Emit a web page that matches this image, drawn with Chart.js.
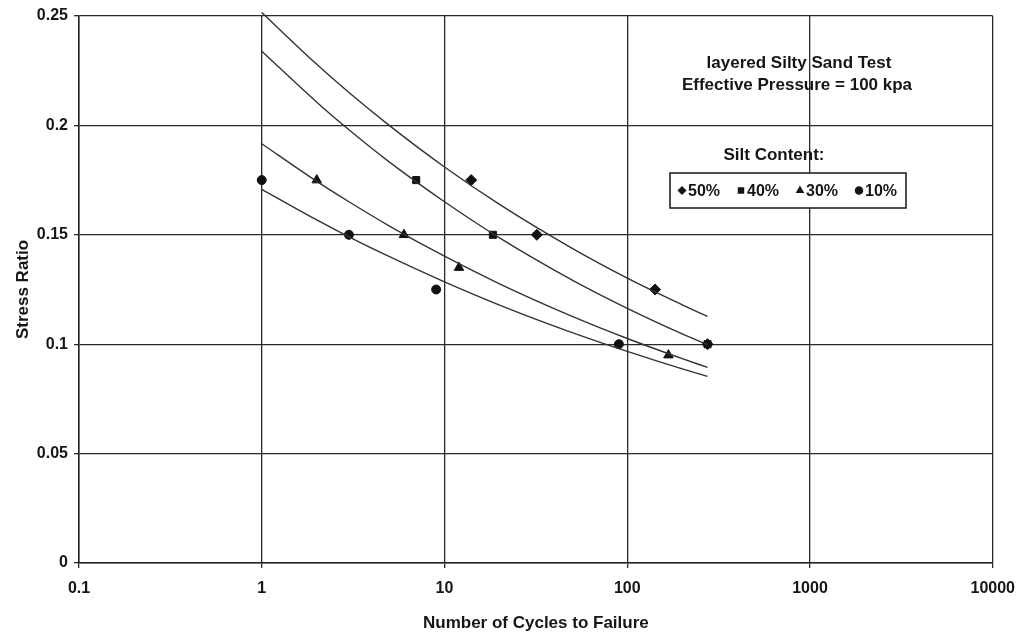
<!DOCTYPE html>
<html>
<head>
<meta charset="utf-8">
<script src="https://cdn.jsdelivr.net/npm/chart.js@4.4.1/dist/chart.umd.min.js"></script>
<style>
  html, body { margin: 0; padding: 0; background: #fff; }
  #wrap { width: 1026px; height: 634px; }
</style>
</head>
<body>
<div id="wrap"><canvas id="chart"></canvas></div>
<script>
// measured tests: cycles to failure / stress ratio, one pair of arrays per silt content
const silt50N = [14, 32, 142, 275];
const silt50R = [0.175, 0.15, 0.125, 0.1];
const silt40N = [7, 18.4, 275];
const silt40R = [0.175, 0.15, 0.1];
const silt30N = [2, 6, 12, 168];
const silt30R = [0.175, 0.15, 0.135, 0.095];
const silt10N = [1, 3, 9, 90];
const silt10R = [0.175, 0.15, 0.125, 0.1];

// fitted trend curves, read at these cycle counts
const curveN = [1, 2, 3, 5, 10, 20, 50, 100, 200, 275];
const curve50 = [0.2516, 0.2279, 0.2150, 0.1999, 0.1810, 0.1639, 0.1438, 0.1302, 0.1180, 0.1127];
const curve40 = [0.2339, 0.2106, 0.1980, 0.1832, 0.1651, 0.1486, 0.1293, 0.1164, 0.1047, 0.0998];
const curve30 = [0.1916, 0.1744, 0.1651, 0.1540, 0.1402, 0.1276, 0.1127, 0.1026, 0.0934, 0.0894];
const curve10 = [0.1708, 0.1568, 0.1491, 0.1400, 0.1285, 0.1179, 0.1053, 0.0967, 0.0887, 0.0853];

const xTicks = [0.1, 1, 10, 100, 1000, 10000];
const yTicks = [0, 0.05, 0.1, 0.15, 0.2, 0.25];

const legendLabels = ['50%', '40%', '30%', '10%'];
const legendShapes = ['rectRot', 'rect', 'triangle', 'circle'];
const noteLines = ['layered Silty Sand Test', 'Effective Pressure = 100 kpa'];
const legendTitle = 'Silt Content:';

const ink = '#161616';
const FONT = '"Liberation Sans", Arial, sans-serif';

const pairs = (xs, ys) => xs.map((x, i) => ({ x: x, y: ys[i] }));

function curve(values) {
  return {
    type: 'line',
    data: pairs(curveN, values),
    borderColor: '#333',
    borderWidth: 1.4,
    pointRadius: 0,
    cubicInterpolationMode: 'monotone',
    fill: false,
    clip: { left: 0, top: 4, right: 0, bottom: 0 }
  };
}

function points(xs, ys, shape, r) {
  return {
    type: 'scatter',
    data: pairs(xs, ys),
    pointStyle: shape,
    pointRadius: r,
    pointBackgroundColor: '#111',
    pointBorderColor: '#111',
    pointBorderWidth: 1
  };
}

// text box and legend drawn inside the plot area
const notes = {
  id: 'notes',
  afterDatasetsDraw(chart) {
    const ctx = chart.ctx;
    const a = chart.chartArea;
    ctx.save();
    ctx.fillStyle = ink;
    ctx.textAlign = 'center';
    ctx.textBaseline = 'middle';
    ctx.font = 'bold 17px ' + FONT;
    ctx.fillText(noteLines[0], a.left + 720, 63);
    ctx.fillText(noteLines[1], a.left + 718, 85);
    ctx.fillText(legendTitle, a.left + 695, 155);

    // legend frame
    const bx = a.left + 591, by = 173, bw = 236, bh = 35;
    ctx.fillStyle = '#fff';
    ctx.fillRect(bx, by, bw, bh);
    ctx.strokeStyle = ink;
    ctx.lineWidth = 1.5;
    ctx.strokeRect(bx, by, bw, bh);

    ctx.textAlign = 'left';
    ctx.font = 'bold 16px ' + FONT;
    const step = 59;
    legendLabels.forEach((lab, i) => {
      const mx = bx + 12 + i * step;
      const my = by + bh / 2;
      ctx.fillStyle = ink;
      ctx.strokeStyle = ink;
      Chart.helpers.drawPoint(ctx, {
        pointStyle: legendShapes[i],
        radius: 3.5,
        rotation: 0,
        borderWidth: 1
      }, mx, my);
      ctx.fillStyle = ink;
      ctx.fillText(lab, mx + 6, my + 1);
    });
    ctx.restore();
  }
};

new Chart(document.getElementById('chart'), {
  data: {
    datasets: [
      curve(curve50),
      curve(curve40),
      curve(curve30),
      curve(curve10),
      points(silt50N, silt50R, 'rectRot', 5.5),
      points(silt40N, silt40R, 'rect', 5),
      points(silt30N, silt30R, 'triangle', 5.5),
      points(silt10N, silt10R, 'circle', 4.5)
    ]
  },
  options: {
    responsive: true,
    maintainAspectRatio: false,
    animation: false,
    layout: { padding: { top: 16, right: 33, left: 0, bottom: 0 } },
    plugins: {
      legend: { display: false },
      tooltip: { enabled: false }
    },
    scales: {
      x: {
        type: 'logarithmic',
        min: 0.1,
        max: 10000,
        afterBuildTicks: s => { s.ticks = xTicks.map(v => ({ value: v })); },
        afterFit: s => { s.height = 71; },
        ticks: {
          color: ink,
          font: { family: FONT, size: 16, weight: 'bold' },
          padding: 11,
          maxRotation: 0,
          autoSkip: false,
          callback: v => String(v)
        },
        grid: { color: '#2a2a2a', lineWidth: 1.3, tickLength: 5 },
        border: { color: '#222', width: 1.5 },
        title: {
          display: true,
          text: 'Number of Cycles to Failure',
          color: ink,
          font: { family: FONT, size: 17, weight: 'bold' },
          padding: { top: 8, bottom: 0 }
        }
      },
      y: {
        min: 0,
        max: 0.25,
        afterBuildTicks: s => { s.ticks = yTicks.map(v => ({ value: v })); },
        afterFit: s => { s.width = 79; },
        ticks: {
          color: ink,
          font: { family: FONT, size: 16, weight: 'bold' },
          padding: 6,
          callback: v => String(v)
        },
        grid: { color: '#2a2a2a', lineWidth: 1.3, tickLength: 5 },
        border: { color: '#222', width: 1.5 },
        title: {
          display: true,
          text: 'Stress Ratio',
          color: ink,
          font: { family: FONT, size: 17, weight: 'bold' },
          padding: { top: 13, bottom: 0 }
        }
      }
    }
  },
  plugins: [notes]
});
</script>
</body>
</html>
